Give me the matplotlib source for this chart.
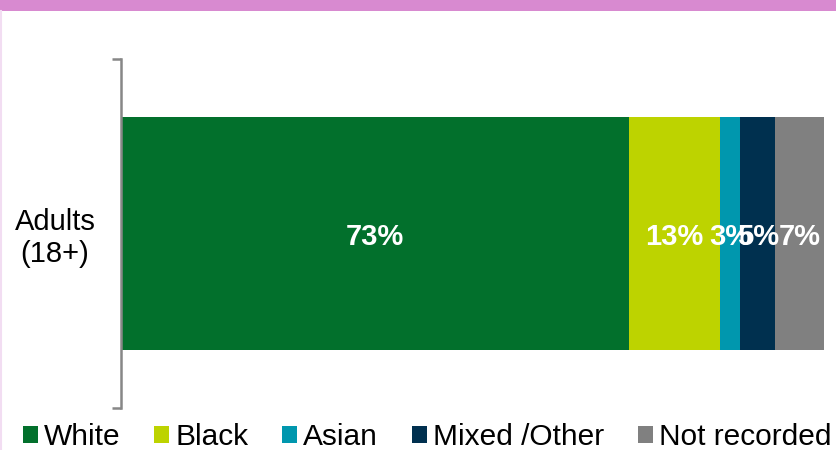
import matplotlib
matplotlib.use("Agg")
import matplotlib.pyplot as plt
from matplotlib.lines import Line2D
from matplotlib.patches import Rectangle

plt.rcParams['font.family'] = ['Liberation Sans', 'DejaVu Sans']

# Ethnicity breakdown of adults (18+)
group_label = "Adults\n(18+)"
categories = ["White", "Black", "Asian", "Mixed /Other", "Not recorded"]
shares = [73, 13, 3, 5, 7]
colors = ["#02702C", "#BDD300", "#0097AE", "#00304F", "#808080"]

W, H = 836, 450
fig = plt.figure(figsize=(W / 100, H / 100), dpi=100)

# Header band and left frame line
fig.patches.append(Rectangle((0, 1 - 11 / H), 1, 11 / H, transform=fig.transFigure,
                             facecolor="#D88AD0", edgecolor="none", zorder=0))
fig.lines.append(Line2D([0.6 / W, 0.6 / W], [0, 1 - 11 / H], transform=fig.transFigure,
                        color="#F2DDF2", linewidth=1.5))

ax = fig.add_axes([121 / W, 1 - 408 / H, (824 - 121) / W, (408 - 59) / H])

left = 0
for cat, val, col in zip(categories, shares, colors):
    ax.barh(0, val, left=left, height=0.67, color=col, label=cat)
    ax.text(left + val / 2, -0.01, f"{val}%", ha="center", va="center",
            color="white", fontsize=21, fontweight="bold")
    left += val

ax.set_xlim(0, sum(shares))
ax.set_ylim(-0.5, 0.5)

for s in ["top", "right", "bottom"]:
    ax.spines[s].set_visible(False)
ax.spines["left"].set_color("#878787")
ax.spines["left"].set_linewidth(1.8)
ax.set_xticks([])
ax.set_yticks([-0.5, 0.5])
ax.set_yticklabels([])
ax.tick_params(axis="y", which="major", length=6.5, width=1.8, color="#878787", direction="out")
ax.set_yticks([0], minor=True)
ax.set_yticklabels([group_label], minor=True, fontsize=21, linespacing=1.15, ha="center")
ax.tick_params(axis="y", which="minor", length=0, pad=47.5)

leg = fig.legend(loc="lower left", bbox_to_anchor=(2 / W, -22 / H), ncol=5,
                 frameon=False, fontsize=21.5, handlelength=0.5, handleheight=0.5,
                 handletextpad=0.2, columnspacing=1.14, borderpad=0.2)

fig.savefig("out.png", dpi=100, facecolor="white")
